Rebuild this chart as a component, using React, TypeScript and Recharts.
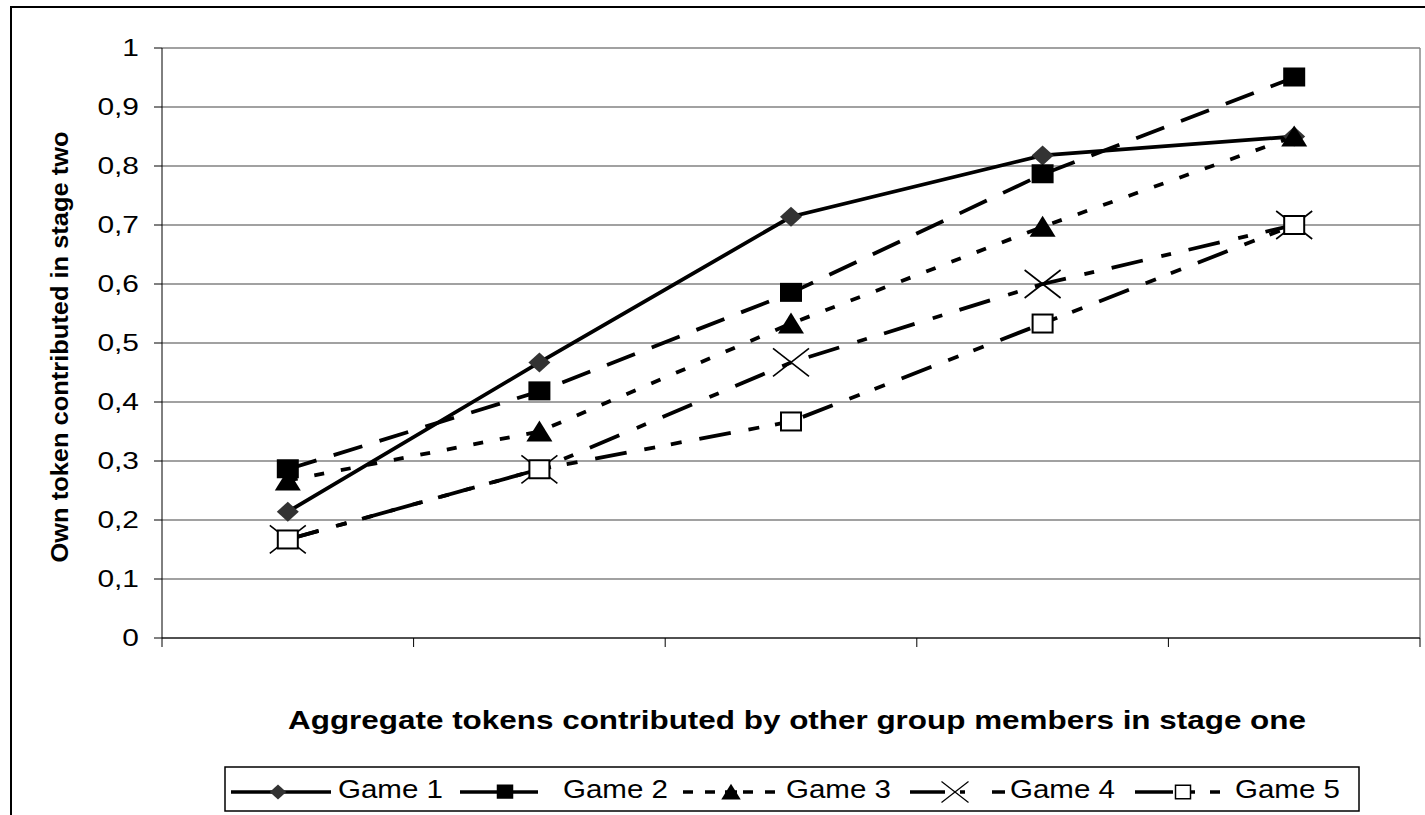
import React from "react";
import {
  LineChart,
  Line,
  XAxis,
  YAxis,
  CartesianGrid,
  ReferenceLine,
  Legend,
} from "recharts";

// stage-one groups (no labels shown on the axis)
const categories = [1, 2, 3, 4, 5];
const xBoundaries = [0.5, 1.5, 2.5, 3.5, 4.5, 5.5];
const yTicks = [0, 0.1, 0.2, 0.3, 0.4, 0.5, 0.6, 0.7, 0.8, 0.9, 1];

const game1 = [0.214, 0.467, 0.714, 0.818, 0.85];
const game2 = [0.286, 0.418, 0.585, 0.786, 0.95];
const game3 = [0.267, 0.35, 0.533, 0.697, 0.85];
const game4 = [0.167, 0.286, 0.467, 0.6, 0.7];
const game5 = [0.167, 0.286, 0.367, 0.533, 0.7];

const seriesNames = ["Game 1", "Game 2", "Game 3", "Game 4", "Game 5"];

const FONT = "'Liberation Sans', Arial, sans-serif";

const data = categories.map((c, i) => ({
  x: c,
  g1: game1[i],
  g2: game2[i],
  g3: game3[i],
  g4: game4[i],
  g5: game5[i],
}));

// markers
const Diamond = ({ cx, cy }: any) => (
  <polygon
    points={`${cx - 11},${cy} ${cx},${cy - 10} ${cx + 11},${cy} ${cx},${cy + 10}`}
    fill="#333"
  />
);
const FilledSquare = ({ cx, cy }: any) => (
  <rect x={cx - 11} y={cy - 10} width={22} height={19} fill="#000" />
);
const Triangle = ({ cx, cy }: any) => (
  <polygon
    points={`${cx - 13},${cy + 10} ${cx},${cy - 11} ${cx + 13},${cy + 10}`}
    fill="#000"
  />
);
const Cross = ({ cx, cy }: any) => (
  <g stroke="#000" strokeWidth={1.6}>
    <line x1={cx - 18} y1={cy - 14} x2={cx + 18} y2={cy + 14} />
    <line x1={cx - 18} y1={cy + 14} x2={cx + 18} y2={cy - 14} />
  </g>
);
const HollowSquare = ({ cx, cy }: any) => (
  <rect x={cx - 10} y={cy - 9} width={20} height={18} fill="#fff" stroke="#000" strokeWidth={2} />
);

const series = [
  { key: "g1", dash: undefined, Marker: Diamond },
  { key: "g2", dash: "30 18", Marker: FilledSquare },
  { key: "g3", dash: "10 17", Marker: Triangle },
  { key: "g4", dash: "32 19 10 18", Marker: Cross },
  { key: "g5", dash: "32 18 11 16 11 18", Marker: HollowSquare },
];

// legend sample strokes: [from, to] offsets inside each item, marker offset
const legendSamples = [
  { segs: [[0, 100]], m: 47 },
  { segs: [[4, 82]], m: 49 },
  { segs: [[2, 12], [24, 34], [44, 56], [62, 72], [84, 94]], m: 50 },
  { segs: [[4, 39], [54, 59], [86, 99]], m: 49 },
  { segs: [[4, 42], [57, 64], [79, 89]], m: 52 },
];
const legendTextX = [107, 107, 105, 104, 104];

const charW = (ch: string) => (ch === "," ? 0.278 : 0.556);

const YTick = ({ x, y, payload }: any) => {
  const label = String(payload.value).replace(".", ",");
  const fs = 23;
  const w = label.split("").reduce((s, ch) => s + charW(ch), 0) * fs * 1.3;
  return (
    <text
      x={x}
      y={y}
      dy="0.36em"
      textAnchor="end"
      fontFamily={FONT}
      fontSize={fs}
      fill="#000"
      textLength={w}
      lengthAdjust="spacingAndGlyphs"
    >
      {label}
    </text>
  );
};

const YTitle = () => (
  <text
    x={68}
    y={347}
    transform="rotate(-90, 68, 347)"
    textAnchor="middle"
    fontFamily={FONT}
    fontWeight="bold"
    fontSize={23}
    textLength={431}
    lengthAdjust="spacingAndGlyphs"
    fill="#000"
  >
    Own token contributed in stage two
  </text>
);

const XTitle = () => (
  <text
    x={797}
    y={729}
    textAnchor="middle"
    fontFamily={FONT}
    fontWeight="bold"
    fontSize={25}
    textLength={1018}
    lengthAdjust="spacingAndGlyphs"
    fill="#000"
  >
    Aggregate tokens contributed by other group members in stage one
  </text>
);

const LegendBox = () => (
  <svg width={1137} height={47} style={{ display: "block" }}>
    <rect x={1} y={1} width={1134} height={44} fill="#fff" stroke="#000" strokeWidth={1.5} />
    {series.map((s, i) => {
      const sx = 7 + i * 225;
      const M = s.Marker;
      const sample = legendSamples[i];
      return (
        <g key={s.key}>
          {sample.segs.map(([a, b], j) => (
            <line key={j} x1={sx + a} y1={26} x2={sx + b} y2={26} stroke="#000" strokeWidth={3.5} />
          ))}
          <g transform={`translate(${sx + sample.m},26) scale(0.75)`}>
            <M cx={0} cy={0} />
          </g>
          <text
            x={sx + legendTextX[i]}
            y={32}
            fontFamily={FONT}
            fontSize={25}
            textLength={105}
            lengthAdjust="spacingAndGlyphs"
            fill="#000"
          >
            {seriesNames[i]}
          </text>
        </g>
      );
    })}
  </svg>
);

export default function App() {
  return (
    <div
      style={{
        position: "absolute",
        left: 0,
        top: 0,
        width: 1425,
        height: 815,
        overflow: "hidden",
        background: "#fff",
      }}
    >
      <div
        style={{
          position: "absolute",
          left: 10,
          top: 6,
          width: 1500,
          height: 900,
          border: "2px solid #000",
        }}
      />
      <div style={{ position: "absolute", left: 0, top: 0 }}>
        <LineChart
          width={1425}
          height={815}
          data={data}
          margin={{ top: 48, right: 5, bottom: 147, left: 102 }}
        >
          <CartesianGrid vertical={false} stroke="#444" strokeWidth={1.2} />
          <ReferenceLine x={5.5} stroke="#888" strokeWidth={1.5} />
          <XAxis
            dataKey="x"
            type="number"
            domain={[0.5, 5.5]}
            ticks={xBoundaries}
            tickFormatter={() => ""}
            tickSize={9}
            height={30}
            axisLine={{ stroke: "#000" }}
            tickLine={{ stroke: "#000" }}
            label={{ content: XTitle }}
          />
          <YAxis
            type="number"
            domain={[0, 1]}
            ticks={yTicks}
            width={60}
            tickSize={8}
            tickMargin={15}
            tick={YTick}
            interval={0}
            axisLine={{ stroke: "#000" }}
            tickLine={{ stroke: "#000" }}
            label={{ content: YTitle }}
          />
          <Legend
            content={LegendBox}
            layout="horizontal"
            verticalAlign="middle"
            align="center"
            wrapperStyle={{ left: 224, top: 766, width: 1137, height: 47 }}
          />
          {series.map((s) => (
            <Line
              key={s.key}
              dataKey={s.key}
              type="linear"
              stroke="#000"
              strokeWidth={3.8}
              strokeDasharray={s.dash}
              dot={(p: any) => <s.Marker key={`${s.key}-${p.index}`} cx={p.cx} cy={p.cy} />}
              activeDot={false}
              isAnimationActive={false}
            />
          ))}
        </LineChart>
      </div>
    </div>
  );
}
